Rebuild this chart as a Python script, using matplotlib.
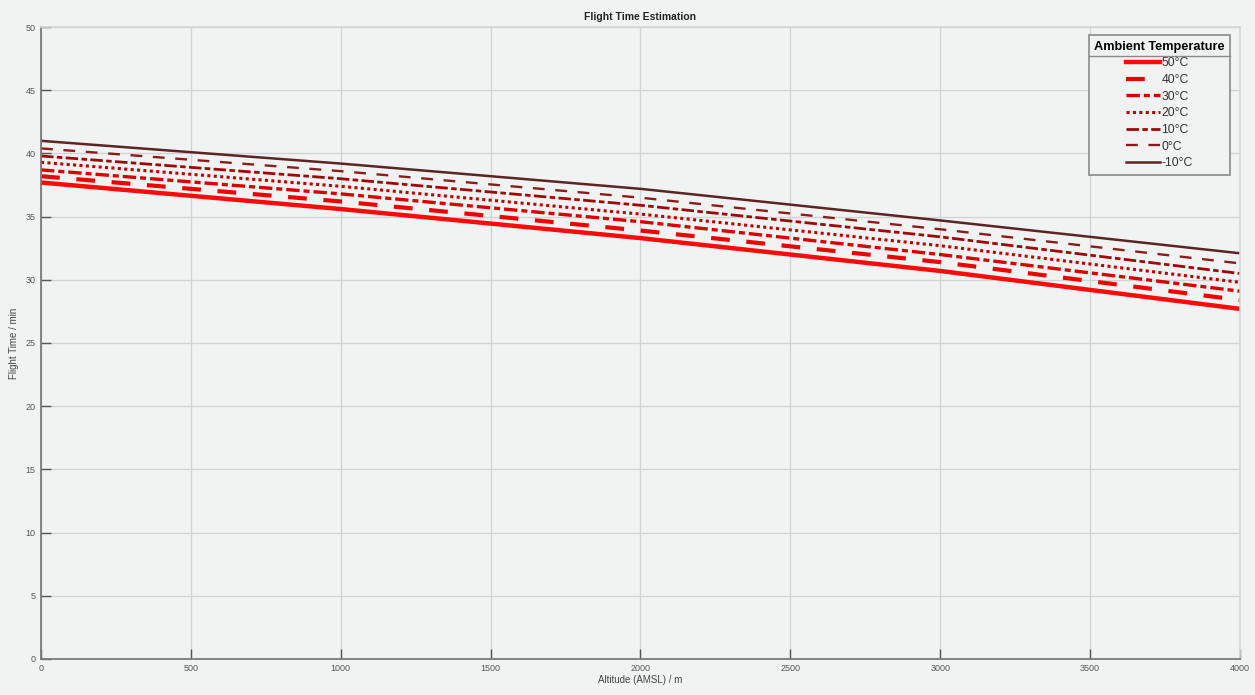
import numpy as np
import matplotlib.pyplot as plt

altitude = [0, 1000, 2000, 3000, 4000]
temps = ['50°C', '40°C', '30°C', '20°C', '10°C', '0°C', '-10°C']
t50 = [37.7, 35.6, 33.3, 30.7, 27.7]
t40 = [38.2, 36.2, 33.9, 31.4, 28.4]
t30 = [38.7, 36.8, 34.6, 32.0, 29.1]
t20 = [39.3, 37.4, 35.2, 32.7, 29.8]
t10 = [39.8, 38.0, 35.9, 33.4, 30.5]
t0 = [40.4, 38.6, 36.5, 34.0, 31.3]
tm10 = [41.0, 39.2, 37.2, 34.7, 32.1]
series = [t50, t40, t30, t20, t10, t0, tm10]

colors = ['#ff0a0a', '#f00000', '#d80000', '#c00000', '#a00808', '#8c1c1c', '#5c2424']
styles = ['-', (0, (4.5, 4.0)), (0, (4.0, 1.2, 1.8, 1.2)), (0, (1.0, 1.1)),
          (0, (4.5, 1.2, 2.0, 1.2)), (0, (5.0, 4.5)), '-']
widths = [3.2, 3.0, 2.4, 2.2, 2.0, 1.7, 1.8]

bg = '#f1f3f3'
plt.rcParams['font.family'] = 'Liberation Sans'
fig = plt.figure(figsize=(12.55, 6.95), dpi=100, facecolor=bg)
ax = fig.add_axes([0.0327, 0.052, 0.9553, 0.909], facecolor=bg)

for y, lab, c, ls, lw in zip(series, temps, colors, styles, widths):
    ax.plot(altitude, y, color=c, linestyle=ls, linewidth=lw, label=lab)

ax.set_xlim(0, 4000)
ax.set_ylim(0, 50)
ax.set_xticks(np.arange(0, 4001, 500))
ax.set_yticks(np.arange(0, 51, 5))
ax.grid(True, color='#d0d3d3', linewidth=0.9)
ax.set_axisbelow(True)
ax.tick_params(direction='in', length=7, width=1, colors='#555555', labelsize=6.5,
               labelcolor='#555555', pad=4)
for s in ['left', 'bottom']:
    ax.spines[s].set_color('#7a7a7a')
    ax.spines[s].set_linewidth(1.3)
for s in ['top', 'right']:
    ax.spines[s].set_color('#d6d8d8')
    ax.spines[s].set_linewidth(1.2)

ax.set_title('Flight Time Estimation', fontsize=7.5, fontweight='bold', color='#222222', pad=5)
ax.set_xlabel('Altitude (AMSL) / m', fontsize=7, color='#444444', labelpad=1)
ax.set_ylabel('Flight Time / min', fontsize=7, color='#444444', labelpad=5)

leg = ax.legend(loc='upper right', bbox_to_anchor=(0.992, 0.987), title='Ambient Temperature',
                fontsize=8.8, title_fontproperties={'weight': 'bold', 'size': 9.2},
                frameon=True, fancybox=False, edgecolor='#8a8a8a', facecolor=bg,
                framealpha=1, handlelength=2.8, handletextpad=0.1, labelspacing=0.38,
                borderpad=0.45, borderaxespad=0)
leg.get_frame().set_linewidth(1.2)
leg._legend_box.align = 'center'
for t in leg.get_texts():
    t.set_color('#333333')

fig.canvas.draw()
bb = leg.get_window_extent()
tb = leg.get_title().get_window_extent()
inv = fig.transFigure.inverted()
x0, y0 = inv.transform((bb.x0, tb.y0 - 3))
x1, _ = inv.transform((bb.x1, tb.y0 - 3))
fig.add_artist(plt.Line2D([x0, x1], [y0, y0], color='#8a8a8a', linewidth=1.0))

fig.savefig('out.png', dpi=100, facecolor=bg)
